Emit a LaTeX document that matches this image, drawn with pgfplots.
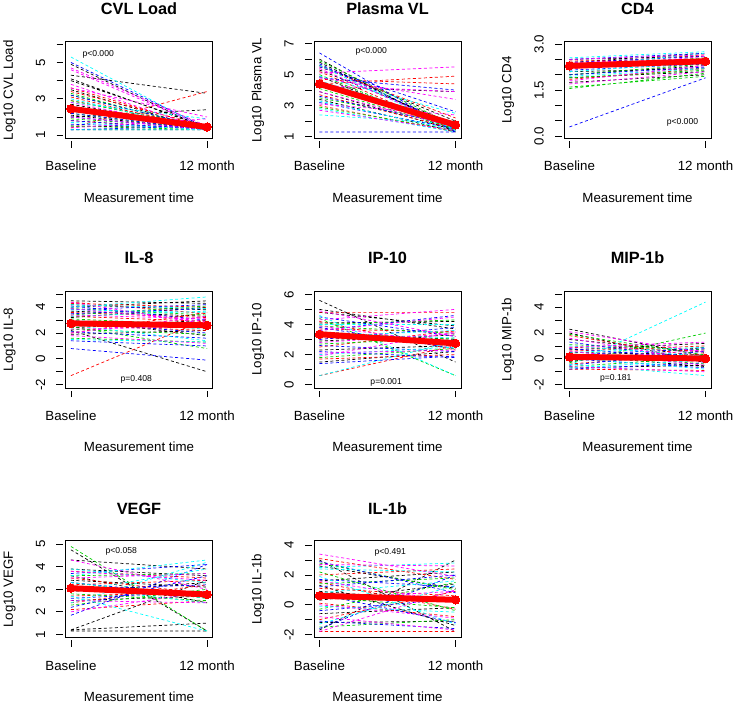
\documentclass[border=0pt]{standalone}
\usepackage{fontspec}
\setmainfont{Liberation Sans}
\usepackage{pgfplots}
\pgfplotsset{compat=1.18}
\definecolor{Rred}{HTML}{FF0000}
\definecolor{Rgreen}{HTML}{00CD00}
\definecolor{Rblue}{HTML}{0000FF}
\definecolor{Rcyan}{HTML}{00FFFF}
\definecolor{Rmag}{HTML}{FF00FF}
\newcommand{\lbl}{\fontsize{13.3}{15}\selectfont}
\newcommand{\ttl}{\fontsize{16.3}{18}\selectfont\bfseries}
\newcommand{\ptx}{\fontsize{8.6}{10}\selectfont}
\pgfplotsset{
 panel/.style={
   scale only axis, width=147pt, height=97pt,
   xmin=0.96, xmax=2.04,
   xtick={1,2}, xticklabels={Baseline,12 month},
   tick pos=left, tick align=outside,
   major tick length=6.5pt,
   xtick style={yshift=-2.5pt, black, line width=0.8pt},
   ytick style={xshift=-2.5pt, black, line width=0.8pt},
   axis line style={line width=0.8pt},
   tick label style={font=\lbl},
   xticklabel style={anchor=center, yshift=-21pt},
   yticklabel style={xshift=-18.5pt, rotate=90, anchor=center},
   xlabel={Measurement time},
   xlabel style={at={(axis description cs:0.5,-0.608)}, anchor=center, font=\lbl},
   ylabel style={at={(axis description cs:-0.381,0.5)}, anchor=center, font=\lbl},
   unbounded coords=jump,
 },
 ind/.style={dash pattern=on 3pt off 2.5pt, line width=0.7pt, no markers},
 mean/.style={color=Rred, line width=6pt, mark=*, mark size=4.2pt, mark options={solid, fill=Rred, draw=Rred, line width=0pt}},
}
\begin{document}
\begin{tikzpicture}
\useasboundingbox (0,0) rectangle (736pt,-704pt);
% ---------------- CVL Load
\begin{axis}[panel, name=a1, at={(65.5pt,-41.6pt)}, anchor=north west,
  ymin=0.81, ymax=6.15, ytick={1,2,3,4,5,6}, yticklabels={1,{},3,{},5,{}},
  ylabel={Log10 CVL Load}]
\addplot[ind, black] coordinates {(1,4.9)(2,1.3)(nan,nan)(1,4.3)(2,3.3)(nan,nan)(1,4.0)(2,1.5)(nan,nan)(1,3.5)(2,1.3)(nan,nan)(1,2.7)(2,1.4)(nan,nan)(1,2.1)(2,1.3)(nan,nan)(1,2.0)(2,2.4)(nan,nan)(1,1.5)(2,1.4)(nan,nan)(1,1.3)(2,1.3)(nan,nan)(1,4.1)(2,1.4)};
\addplot[ind, Rred] coordinates {(1,3.6)(2,1.4)(nan,nan)(1,3.4)(2,1.5)(nan,nan)(1,3.1)(2,1.3)(nan,nan)(1,2.4)(2,1.3)(nan,nan)(1,1.8)(2,1.3)(nan,nan)(1,1.4)(2,3.4)(nan,nan)(1,2.9)(2,1.5)};
\addplot[ind, Rgreen] coordinates {(1,3.3)(2,1.3)(nan,nan)(1,2.9)(2,1.4)(nan,nan)(1,2.5)(2,1.3)(nan,nan)(1,1.9)(2,1.4)(nan,nan)(1,1.5)(2,1.3)(nan,nan)(1,3.2)(2,1.4)(nan,nan)(1,2.2)(2,1.3)};
\addplot[ind, Rblue] coordinates {(1,5.0)(2,1.4)(nan,nan)(1,3.2)(2,1.4)(nan,nan)(1,2.6)(2,1.3)(nan,nan)(1,2.2)(2,1.3)(nan,nan)(1,1.8)(2,1.3)(nan,nan)(1,1.6)(2,1.4)(nan,nan)(1,1.3)(2,1.5)(nan,nan)(1,2.0)(2,1.3)};
\addplot[ind, Rcyan] coordinates {(1,5.3)(2,1.3)(nan,nan)(1,3.0)(2,1.3)(nan,nan)(1,2.3)(2,1.4)(nan,nan)(1,1.7)(2,1.3)(nan,nan)(1,1.3)(2,1.3)(nan,nan)(1,2.8)(2,1.9)};
\addplot[ind, Rmag] coordinates {(1,4.7)(2,1.5)(nan,nan)(1,4.6)(2,1.4)(nan,nan)(1,3.6)(2,2.0)(nan,nan)(1,2.8)(2,1.3)(nan,nan)(1,2.0)(2,1.3)(nan,nan)(1,1.4)(2,1.9)(nan,nan)(1,3.8)(2,1.3)};
\addplot[mean] coordinates {(1,2.45)(2,1.45)};
\node[font=\ptx] at (axis cs:1.2,5.42) {p<0.000};
\end{axis}
\node[font=\ttl, anchor=center] at ([yshift=33pt]a1.north) {CVL Load};
% ---------------- Plasma VL
\begin{axis}[panel, name=a2, at={(314pt,-41.6pt)}, anchor=north west,
  ymin=0.87, ymax=7.13, ytick={1,2,3,4,5,6,7}, yticklabels={1,{},3,{},5,{},7},
  ylabel={Log10 Plasma VL}]
\addplot[ind, black] coordinates {(1,6.0)(2,1.3)(nan,nan)(1,5.8)(2,1.5)(nan,nan)(1,5.6)(2,2.0)(nan,nan)(1,5.3)(2,1.8)(nan,nan)(1,4.9)(2,1.3)(nan,nan)(1,4.5)(2,1.6)(nan,nan)(1,3.9)(2,1.4)(nan,nan)(1,3.4)(2,1.3)(nan,nan)(1,4.2)(2,3.9)};
\addplot[ind, Rred] coordinates {(1,5.2)(2,1.4)(nan,nan)(1,4.4)(2,4.9)(nan,nan)(1,4.7)(2,4.4)(nan,nan)(1,3.7)(2,1.5)(nan,nan)(1,3.0)(2,1.3)(nan,nan)(1,5.5)(2,2.2)};
\addplot[ind, Rgreen] coordinates {(1,5.9)(2,1.7)(nan,nan)(1,5.0)(2,1.4)(nan,nan)(1,4.1)(2,1.5)(nan,nan)(1,3.5)(2,1.8)(nan,nan)(1,2.9)(2,1.4)};
\addplot[ind, Rblue] coordinates {(1,6.4)(2,1.3)(nan,nan)(1,5.5)(2,2.6)(nan,nan)(1,4.8)(2,4.0)(nan,nan)(1,3.6)(2,1.7)(nan,nan)(1,3.2)(2,1.5)(nan,nan)(1,1.3)(2,1.3)(nan,nan)(1,5.7)(2,1.5)};
\addplot[ind, Rcyan] coordinates {(1,5.6)(2,1.4)(nan,nan)(1,4.6)(2,1.9)(nan,nan)(1,3.3)(2,1.4)(nan,nan)(1,2.4)(2,1.8)(nan,nan)(1,2.8)(2,1.3)(nan,nan)(1,4.9)(2,2.5)};
\addplot[ind, Rmag] coordinates {(1,5.1)(2,5.5)(nan,nan)(1,4.3)(2,3.9)(nan,nan)(1,4.8)(2,3.4)(nan,nan)(1,3.9)(2,1.6)(nan,nan)(1,2.7)(2,1.4)(nan,nan)(1,5.4)(2,1.6)(nan,nan)(1,3.1)(2,2.4)};
\addplot[mean] coordinates {(1,4.4)(2,1.75)};
\node[font=\ptx] at (axis cs:1.38,6.47) {p<0.000};
\end{axis}
\node[font=\ttl, anchor=center] at ([yshift=33pt]a2.north) {Plasma VL};
% ---------------- CD4
\begin{axis}[panel, name=a3, at={(564pt,-41.6pt)}, anchor=north west,
  ymin=-0.08, ymax=3.08, ytick={0,0.5,1,1.5,2,2.5,3}, yticklabels={0.0,{},{},1.5,{},{},3.0},
  ylabel={Log10 CD4}]
\addplot[ind, black] coordinates {(1,2.5)(2,2.6)(nan,nan)(1,2.3)(2,2.4)(nan,nan)(1,2.1)(2,2.2)(nan,nan)(1,1.9)(2,2.1)(nan,nan)(1,1.75)(2,2.0)(nan,nan)(1,2.4)(2,2.7)(nan,nan)(1,2.0)(2,2.3)};
\addplot[ind, Rred] coordinates {(1,2.45)(2,2.5)(nan,nan)(1,2.2)(2,2.45)(nan,nan)(1,1.85)(2,2.2)(nan,nan)(1,2.35)(2,2.65)};
\addplot[ind, Rgreen] coordinates {(1,2.3)(2,2.55)(nan,nan)(1,1.9)(2,2.15)(nan,nan)(1,1.6)(2,1.95)(nan,nan)(1,1.55)(2,2.05)(nan,nan)(1,2.0)(2,2.35)};
\addplot[ind, Rblue] coordinates {(1,2.4)(2,2.6)(nan,nan)(1,2.15)(2,2.35)(nan,nan)(1,2.0)(2,2.25)(nan,nan)(1,0.3)(2,1.9)(nan,nan)(1,2.5)(2,2.7)};
\addplot[ind, Rcyan] coordinates {(1,2.55)(2,2.75)(nan,nan)(1,2.25)(2,2.7)(nan,nan)(1,2.1)(2,2.4)(nan,nan)(1,1.95)(2,2.2)};
\addplot[ind, Rmag] coordinates {(1,2.5)(2,2.65)(nan,nan)(1,2.4)(2,2.5)(nan,nan)(1,2.2)(2,2.6)(nan,nan)(1,1.8)(2,2.3)(nan,nan)(1,1.7)(2,2.1)(nan,nan)(1,2.3)(2,2.45)};
\addplot[mean] coordinates {(1,2.29)(2,2.44)};
\node[font=\ptx] at (axis cs:1.83,0.45) {p<0.000};
\end{axis}
\node[font=\ttl, anchor=center] at ([yshift=33pt]a3.north) {CD4};
% ---------------- IL-8
\begin{axis}[panel, name=a4, at={(65.5pt,-291pt)}, anchor=north west,
  ymin=-2.26, ymax=5.26, ytick={-2,-1,0,1,2,3,4,5}, yticklabels={-2,{},0,{},2,{},4,{}},
  ylabel={Log10 IL-8}]
\addplot[ind, black] coordinates {(1,4.5)(2,4.3)(nan,nan)(1,4.2)(2,3.8)(nan,nan)(1,3.7)(2,3.3)(nan,nan)(1,3.2)(2,4.0)(nan,nan)(1,2.8)(2,2.5)(nan,nan)(1,2.4)(2,3.0)(nan,nan)(1,2.2)(2,-1.0)(nan,nan)(1,1.9)(2,2.2)(nan,nan)(1,3.0)(2,1.8)(nan,nan)(1,4.0)(2,4.5)};
\addplot[ind, Rred] coordinates {(1,4.3)(2,4.0)(nan,nan)(1,3.6)(2,3.2)(nan,nan)(1,3.3)(2,2.9)(nan,nan)(1,2.6)(2,2.2)(nan,nan)(1,2.0)(2,3.6)(nan,nan)(1,-1.3)(2,3.1)(nan,nan)(1,4.4)(2,3.5)};
\addplot[ind, Rgreen] coordinates {(1,3.9)(2,3.4)(nan,nan)(1,3.1)(2,2.6)(nan,nan)(1,2.5)(2,0.8)(nan,nan)(1,2.3)(2,1.9)(nan,nan)(1,1.6)(2,1.3)(nan,nan)(1,3.4)(2,4.1)};
\addplot[ind, Rblue] coordinates {(1,4.1)(2,3.0)(nan,nan)(1,3.5)(2,3.9)(nan,nan)(1,2.9)(2,2.0)(nan,nan)(1,2.1)(2,1.6)(nan,nan)(1,1.4)(2,1.0)(nan,nan)(1,0.8)(2,-0.1)(nan,nan)(1,3.8)(2,4.2)};
\addplot[ind, Rcyan] coordinates {(1,4.0)(2,4.8)(nan,nan)(1,3.8)(2,3.6)(nan,nan)(1,3.0)(2,2.3)(nan,nan)(1,1.5)(2,1.3)(nan,nan)(1,2.6)(2,1.4)(nan,nan)(1,3.3)(2,3.7)(nan,nan)(1,4.2)(2,3.9)};
\addplot[ind, Rmag] coordinates {(1,4.4)(2,2.7)(nan,nan)(1,3.4)(2,3.1)(nan,nan)(1,2.7)(2,2.8)(nan,nan)(1,2.3)(2,2.5)(nan,nan)(1,1.8)(2,1.2)(nan,nan)(1,2.0)(2,3.3)(nan,nan)(1,3.9)(2,2.9)};
\addplot[mean] coordinates {(1,2.75)(2,2.6)};
\node[font=\ptx] at (axis cs:1.48,-1.56) {p=0.408};
\end{axis}
\node[font=\ttl, anchor=center] at ([yshift=33pt]a4.north) {IL-8};
% ---------------- IP-10
\begin{axis}[panel, name=a5, at={(314pt,-291pt)}, anchor=north west,
  ymin=-0.22, ymax=6.22, ytick={0,1,2,3,4,5,6}, yticklabels={0,{},2,{},4,{},6},
  ylabel={Log10 IP-10}]
\addplot[ind, black] coordinates {(1,5.6)(2,1.5)(nan,nan)(1,5.0)(2,3.7)(nan,nan)(1,4.1)(2,4.2)(nan,nan)(1,3.5)(2,3.0)(nan,nan)(1,2.9)(2,3.3)(nan,nan)(1,2.3)(2,2.6)(nan,nan)(1,1.5)(2,2.2)(nan,nan)(1,4.8)(2,3.9)};
\addplot[ind, Rred] coordinates {(1,4.8)(2,4.8)(nan,nan)(1,3.7)(2,3.5)(nan,nan)(1,3.1)(2,2.9)(nan,nan)(1,1.7)(2,2.0)(nan,nan)(1,0.6)(2,2.6)(nan,nan)(1,2.5)(2,3.6)(nan,nan)(1,4.2)(2,2.3)};
\addplot[ind, Rgreen] coordinates {(1,4.4)(2,0.6)(nan,nan)(1,3.9)(2,3.4)(nan,nan)(1,3.3)(2,2.8)(nan,nan)(1,2.7)(2,3.1)(nan,nan)(1,1.8)(2,2.4)(nan,nan)(1,4.0)(2,4.3)};
\addplot[ind, Rblue] coordinates {(1,4.5)(2,3.2)(nan,nan)(1,3.8)(2,2.4)(nan,nan)(1,3.0)(2,3.8)(nan,nan)(1,2.2)(2,1.8)(nan,nan)(1,1.4)(2,1.9)(nan,nan)(1,3.6)(2,4.6)(nan,nan)(1,2.6)(2,2.2)};
\addplot[ind, Rcyan] coordinates {(1,4.6)(2,0.6)(nan,nan)(1,4.0)(2,4.0)(nan,nan)(1,3.2)(2,3.6)(nan,nan)(1,0.6)(2,2.9)(nan,nan)(1,2.0)(2,2.5)(nan,nan)(1,3.4)(2,3.1)};
\addplot[ind, Rmag] coordinates {(1,4.3)(2,5.0)(nan,nan)(1,3.6)(2,4.5)(nan,nan)(1,2.8)(2,3.4)(nan,nan)(1,2.1)(2,2.3)(nan,nan)(1,3.9)(2,2.7)(nan,nan)(1,1.9)(2,3.5)(nan,nan)(1,4.9)(2,3.2)};
\addplot[mean] coordinates {(1,3.35)(2,2.75)};
\node[font=\ptx] at (axis cs:1.49,0.15) {p=0.001};
\end{axis}
\node[font=\ttl, anchor=center] at ([yshift=33pt]a5.north) {IP-10};
% ---------------- MIP-1b
\begin{axis}[panel, name=a6, at={(564pt,-291pt)}, anchor=north west,
  ymin=-2.26, ymax=5.26, ytick={-2,-1,0,1,2,3,4,5}, yticklabels={-2,{},0,{},2,{},4,{}},
  ylabel={Log10 MIP-1b}]
\addplot[ind, black] coordinates {(1,2.3)(2,0.2)(nan,nan)(1,2.0)(2,-0.3)(nan,nan)(1,1.5)(2,0.5)(nan,nan)(1,0.7)(2,1.2)(nan,nan)(1,0.3)(2,-0.6)(nan,nan)(1,-0.2)(2,0.9)(nan,nan)(1,-0.7)(2,-0.5)(nan,nan)(1,0.5)(2,0.3)};
\addplot[ind, Rred] coordinates {(1,1.8)(2,0.1)(nan,nan)(1,0.9)(2,0.6)(nan,nan)(1,0.2)(2,-0.2)(nan,nan)(1,-0.4)(2,0.4)(nan,nan)(1,-0.8)(2,-0.9)(nan,nan)(1,0.6)(2,1.0)};
\addplot[ind, Rgreen] coordinates {(1,1.9)(2,0.3)(nan,nan)(1,-0.3)(2,2.0)(nan,nan)(1,0.4)(2,-0.4)(nan,nan)(1,-0.6)(2,0.1)(nan,nan)(1,1.1)(2,0.7)};
\addplot[ind, Rblue] coordinates {(1,1.3)(2,-0.1)(nan,nan)(1,0.8)(2,0.0)(nan,nan)(1,0.0)(2,-0.7)(nan,nan)(1,-0.5)(2,0.6)(nan,nan)(1,-0.8)(2,-0.3)(nan,nan)(1,0.3)(2,0.8)};
\addplot[ind, Rcyan] coordinates {(1,-0.5)(2,4.4)(nan,nan)(1,1.0)(2,0.2)(nan,nan)(1,0.1)(2,-0.8)(nan,nan)(1,-0.4)(2,-1.3)(nan,nan)(1,0.5)(2,0.9)(nan,nan)(1,-0.7)(2,-0.1)};
\addplot[ind, Rmag] coordinates {(1,2.1)(2,0.5)(nan,nan)(1,1.6)(2,-0.2)(nan,nan)(1,0.6)(2,-0.5)(nan,nan)(1,-0.1)(2,0.7)(nan,nan)(1,-0.6)(2,-1.0)(nan,nan)(1,0.9)(2,1.3)};
\addplot[mean] coordinates {(1,0.15)(2,0.03)};
\node[font=\ptx] at (axis cs:1.34,-1.54) {p=0.181};
\end{axis}
\node[font=\ttl, anchor=center] at ([yshift=33pt]a6.north) {MIP-1b};
% ---------------- VEGF
\begin{axis}[panel, name=a7, at={(65.5pt,-540.8pt)}, anchor=north west,
  ymin=0.85, ymax=5.15, ytick={1,2,3,4,5}, yticklabels={1,2,3,4,5},
  ylabel={Log10 VEGF}]
\addplot[ind, black] coordinates {(1,4.75)(2,1.15)(nan,nan)(1,3.9)(2,3.6)(nan,nan)(1,3.4)(2,3.1)(nan,nan)(1,2.9)(2,3.3)(nan,nan)(1,2.5)(2,2.7)(nan,nan)(1,1.2)(2,3.4)(nan,nan)(1,1.15)(2,1.15)(nan,nan)(1,1.2)(2,1.5)(nan,nan)(1,3.6)(2,2.4)(nan,nan)(1,4.3)(2,3.9)};
\addplot[ind, Rred] coordinates {(1,3.8)(2,3.5)(nan,nan)(1,3.2)(2,3.4)(nan,nan)(1,2.7)(2,2.9)(nan,nan)(1,2.1)(2,2.5)(nan,nan)(1,3.5)(2,2.8)(nan,nan)(1,2.4)(2,3.2)};
\addplot[ind, Rgreen] coordinates {(1,4.9)(2,1.15)(nan,nan)(1,3.3)(2,2.6)(nan,nan)(1,2.8)(2,2.5)(nan,nan)(1,2.3)(2,3.0)(nan,nan)(1,3.6)(2,3.7)};
\addplot[ind, Rblue] coordinates {(1,3.7)(2,4.1)(nan,nan)(1,3.0)(2,3.2)(nan,nan)(1,2.6)(2,2.9)(nan,nan)(1,1.85)(2,4.1)(nan,nan)(1,3.3)(2,2.7)(nan,nan)(1,2.2)(2,3.6)};
\addplot[ind, Rcyan] coordinates {(1,3.6)(2,4.3)(nan,nan)(1,3.1)(2,2.4)(nan,nan)(1,2.7)(2,1.15)(nan,nan)(1,2.4)(2,4.2)(nan,nan)(1,3.9)(2,3.3)(nan,nan)(1,3.3)(2,2.6)(nan,nan)(1,2.9)(2,3.9)};
\addplot[ind, Rmag] coordinates {(1,4.3)(2,3.0)(nan,nan)(1,3.5)(2,3.7)(nan,nan)(1,3.0)(2,2.8)(nan,nan)(1,2.5)(2,2.4)(nan,nan)(1,3.8)(2,3.4)(nan,nan)(1,2.0)(2,2.9)};
\addplot[mean] coordinates {(1,3.05)(2,2.77)};
\node[font=\ptx] at (axis cs:1.37,4.66) {p<0.058};
\end{axis}
\node[font=\ttl, anchor=center] at ([yshift=32pt]a7.north) {VEGF};
% ---------------- IL-1b
\begin{axis}[panel, name=a8, at={(314pt,-540.8pt)}, anchor=north west,
  ymin=-2.22, ymax=4.29, ytick={-2,-1,0,1,2,3,4}, yticklabels={-2,{},0,{},2,{},4},
  ylabel={Log10 IL-1b}]
\addplot[ind, black] coordinates {(1,3.0)(2,-1.8)(nan,nan)(1,2.6)(2,1.1)(nan,nan)(1,1.6)(2,2.2)(nan,nan)(1,0.9)(2,0.2)(nan,nan)(1,0.3)(2,1.4)(nan,nan)(1,-0.6)(2,-0.2)(nan,nan)(1,-1.7)(2,3.0)(nan,nan)(1,-1.2)(2,-1.1)(nan,nan)(1,1.3)(2,-1.4)};
\addplot[ind, Rred] coordinates {(1,3.1)(2,1.7)(nan,nan)(1,2.0)(2,2.4)(nan,nan)(1,1.1)(2,0.6)(nan,nan)(1,0.1)(2,-0.8)(nan,nan)(1,-1.0)(2,0.9)(nan,nan)(1,-1.8)(2,-1.8)(nan,nan)(1,1.5)(2,-0.3)};
\addplot[ind, Rgreen] coordinates {(1,2.2)(2,-0.4)(nan,nan)(1,1.4)(2,1.8)(nan,nan)(1,0.5)(2,-0.2)(nan,nan)(1,-0.3)(2,1.5)(nan,nan)(1,2.8)(2,1.0)(nan,nan)(1,-1.5)(2,-1.0)};
\addplot[ind, Rblue] coordinates {(1,2.9)(2,0.8)(nan,nan)(1,1.7)(2,1.2)(nan,nan)(1,0.7)(2,-1.2)(nan,nan)(1,-0.4)(2,0.4)(nan,nan)(1,-1.1)(2,-1.6)(nan,nan)(1,-1.6)(2,2.0)(nan,nan)(1,1.2)(2,2.0)};
\addplot[ind, Rcyan] coordinates {(1,2.4)(2,2.2)(nan,nan)(1,1.9)(2,-1.3)(nan,nan)(1,0.8)(2,1.6)(nan,nan)(1,-0.1)(2,-0.5)(nan,nan)(1,-1.3)(2,1.3)(nan,nan)(1,2.5)(2,2.8)};
\addplot[ind, Rmag] coordinates {(1,3.4)(2,1.9)(nan,nan)(1,2.7)(2,2.6)(nan,nan)(1,1.6)(2,0.2)(nan,nan)(1,0.4)(2,0.9)(nan,nan)(1,-0.8)(2,-1.7)(nan,nan)(1,-1.8)(2,1.0)(nan,nan)(1,0.0)(2,-0.9)};
\addplot[mean] coordinates {(1,0.6)(2,0.33)};
\node[font=\ptx] at (axis cs:1.52,3.53) {p<0.491};
\end{axis}
\node[font=\ttl, anchor=center] at ([yshift=32pt]a8.north) {IL-1b};
\end{tikzpicture}
\end{document}
